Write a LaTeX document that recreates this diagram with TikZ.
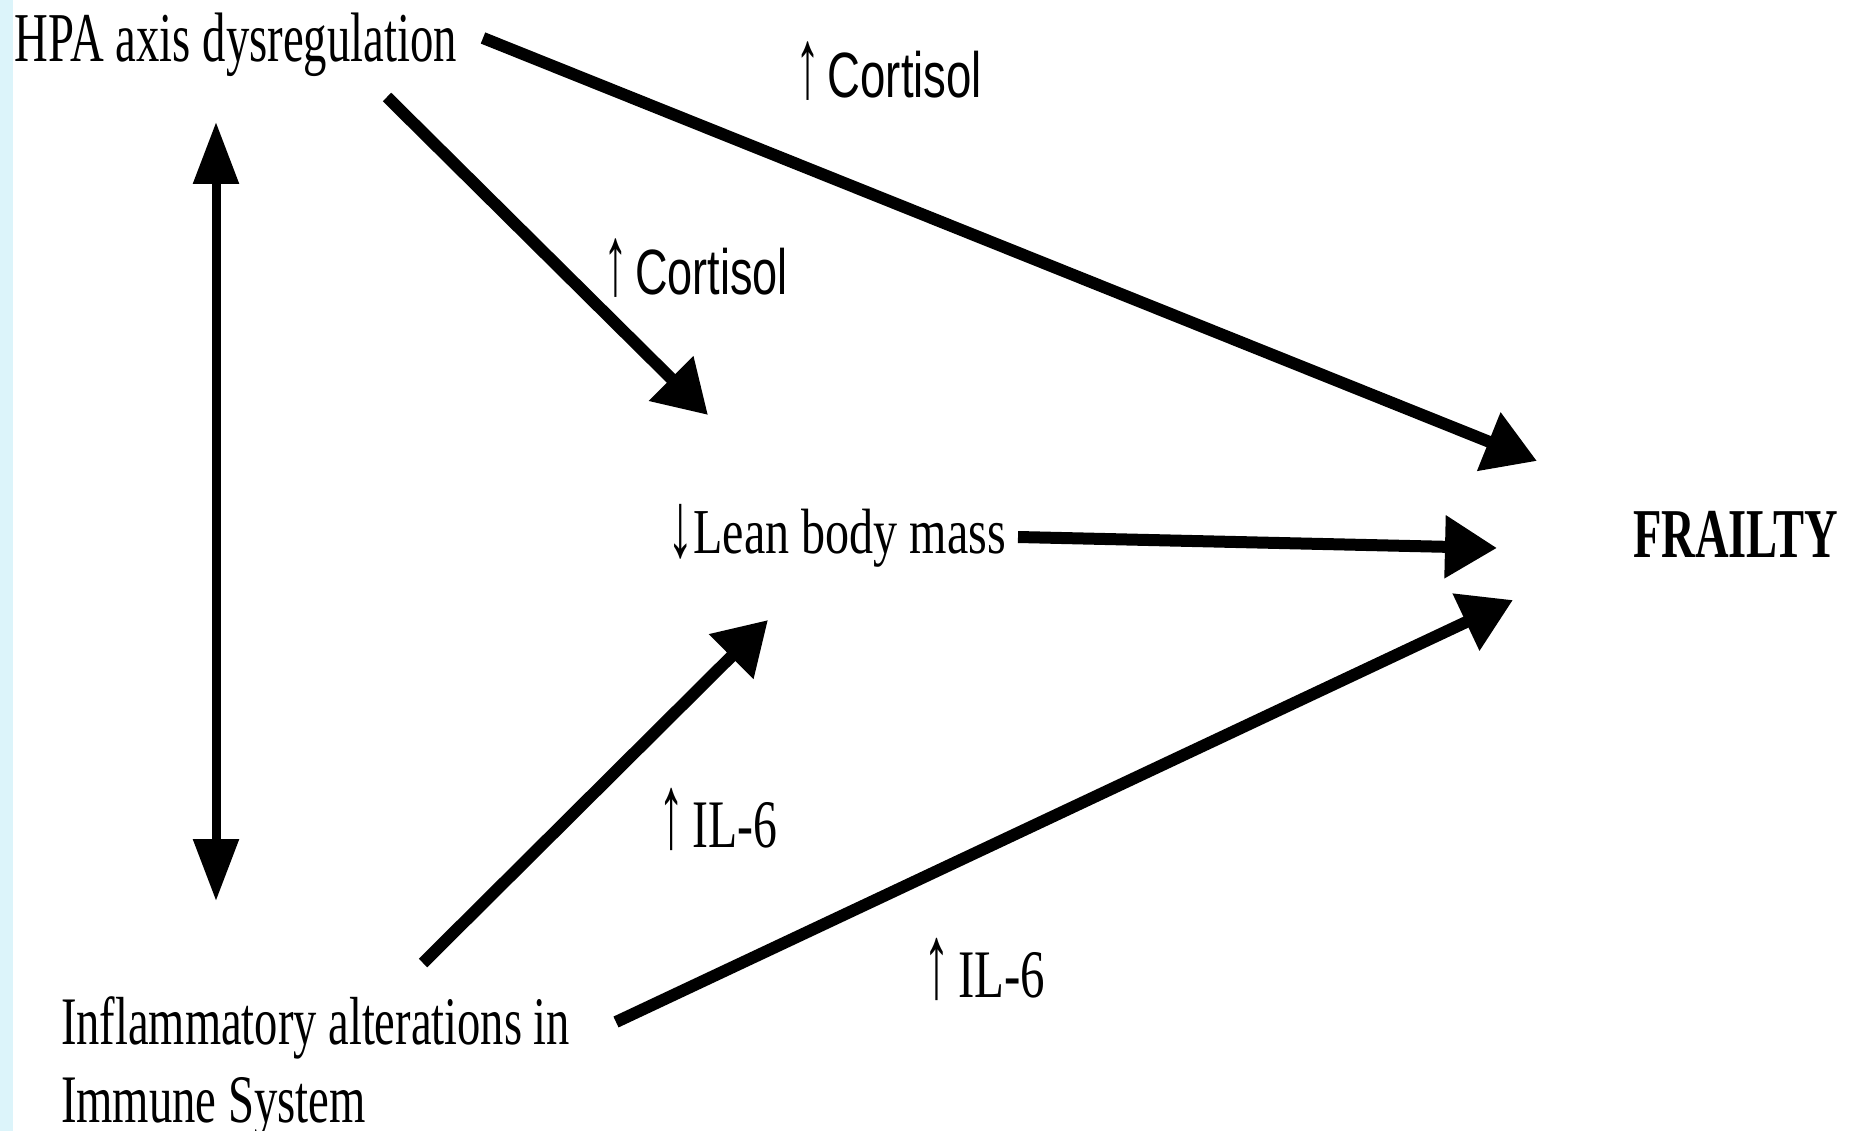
\documentclass[tikz,border=0pt]{standalone}
\usepackage{fontspec}
\usepackage{graphicx}
\setmainfont{Liberation Serif}
\newfontfamily\cortfont{Liberation Sans}
\usetikzlibrary{arrows.meta}
\definecolor{stripblue}{RGB}{220,244,250}
\newcommand{\squeeze}[2]{\resizebox{#1pt}{\height}{#2}}
\newcommand{\upar}{{\rmfamily\scalebox{1.1}[1.55]{↑}}}
\newcommand{\dnar}{{\rmfamily\raisebox{-0.06em}{\scalebox{1.1}[1.45]{↓}}}}
\begin{document}
\begin{tikzpicture}[x=1pt,y=-1pt,
  lbl/.style={inner sep=0pt, outer sep=0pt, anchor=base west},
  conn/.style={line width=12pt, -{Triangle[length=52pt,width=60pt]}},
  biconn/.style={line width=9pt, {Triangle[length=62pt,width=44pt]}-{Triangle[length=62pt,width=44pt]}}]
\useasboundingbox (0,0) rectangle (1852,1131);
\fill[stripblue] (0,0) rectangle (13,1131);

% labels
\node[lbl] (hpa) at (15,62) {\squeeze{442}{\fontsize{70}{70}\selectfont HPA axis dysregulation}};
\node[lbl] (cort1) at (795,98) {\squeeze{187}{\fontsize{64}{64}\selectfont \upar\,\cortfont Cortisol}};
\node[lbl] (cort2) at (603,295) {\squeeze{185}{\fontsize{64}{64}\selectfont \upar\,\cortfont Cortisol}};
\node[lbl] (lean) at (667,553) {\squeeze{339}{\fontsize{64}{64}\selectfont \dnar Lean body mass}};
\node[lbl] (frailty) at (1633,557) {\squeeze{205}{\fontsize{70}{70}\selectfont\bfseries FRAILTY}};
\node[lbl] (il1) at (658,847) {\squeeze{119}{\fontsize{68}{68}\selectfont \upar\,IL-6}};
\node[lbl] (il2) at (923,997) {\squeeze{122}{\fontsize{68}{68}\selectfont \upar\,IL-6}};
\node[lbl] (infl) at (61,1044) {\fontsize{68}{78}\selectfont\vtop{\hbox{\squeeze{509}{Inflammatory alterations in}}\hbox{\squeeze{305}{Immune System}}}};

% connector end points
\coordinate (hpaR) at (483,38);
\coordinate (hpaD) at (387,97);
\coordinate (hpaV) at (216,122);
\coordinate (inflV) at (216,901);
\coordinate (leanTop) at (708,415);
\coordinate (leanR) at (1018,537);
\coordinate (leanBot) at (768,620);
\coordinate (inflU) at (423,963);
\coordinate (inflR) at (616,1022);
\coordinate (frailA) at (1537,461);
\coordinate (frailB) at (1497,548);
\coordinate (frailC) at (1513,600);

% connectors
\draw[conn] (hpaR) -- (frailA);
\draw[conn] (hpaD) -- (leanTop);
\draw[conn] (leanR) -- (frailB);
\draw[conn] (inflU) -- (leanBot);
\draw[conn] (inflR) -- (frailC);
\draw[biconn] (hpaV) -- (inflV);
\end{tikzpicture}
\end{document}
